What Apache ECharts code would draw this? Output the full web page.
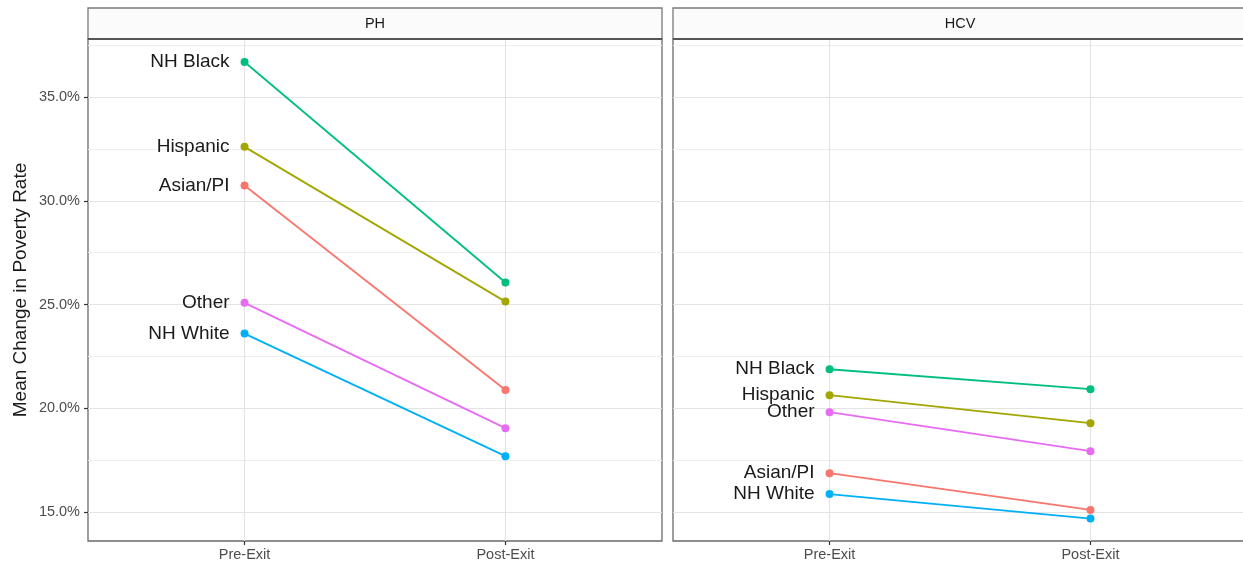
<!DOCTYPE html>
<html>
<head>
<meta charset="utf-8">
<title>Mean Change in Poverty Rate</title>
<script src="https://cdn.jsdelivr.net/npm/echarts@6/dist/echarts.min.js"></script>
<style>
  html, body { margin: 0; padding: 0; background: #ffffff; }
  #chart { width: 1243px; height: 565px; }
</style>
</head>
<body>
<div id="chart"></div>
<script>
// Periods on the x axis and facet panels
const periods = ['Pre-Exit', 'Post-Exit'];
const panels = ['PH', 'HCV'];
const groups = ['Asian/PI', 'Hispanic', 'NH Black', 'NH White', 'Other'];

// Mean poverty rate (%) by group, Pre-Exit then Post-Exit
const phAsianPI  = [30.74, 20.88];
const phHispanic = [32.60, 25.14];
const phNHBlack  = [36.69, 26.06];
const phNHWhite  = [23.60, 17.69];
const phOther    = [25.08, 19.04];

const hcvAsianPI  = [16.87, 15.10];
const hcvHispanic = [20.63, 19.28];
const hcvNHBlack  = [21.88, 20.92];
const hcvNHWhite  = [15.86, 14.68];
const hcvOther    = [19.81, 17.93];

// Y axis ticks and gridlines
const yMajorTicks = [15, 20, 25, 30, 35];
const yMinorTicks = [17.5, 22.5, 27.5, 32.5, 37.5];
const yRange = [13.6, 37.8];

const panelSeries = [
  [phAsianPI, phHispanic, phNHBlack, phNHWhite, phOther],
  [hcvAsianPI, hcvHispanic, hcvNHBlack, hcvNHWhite, hcvOther]
];

const groupColors = ['#F8766D', '#A3A500', '#00BF7D', '#00B0F6', '#E76BF3'];
const FONT = '"Liberation Sans", Arial, Helvetica, sans-serif';

// The second panel runs slightly past the right edge of the page
const gridLayout = [
  { left: 88, top: 39, width: 574, height: 502 },
  { left: 673, top: 39, width: 574, height: 502 }
];

const grids = gridLayout.map(g => Object.assign({
  show: true, backgroundColor: 'transparent',
  borderColor: '#6a6a6a', borderWidth: 1.3, containLabel: false,
  outerBoundsMode: 'none'
}, g));

const xAxes = panels.map((p, i) => ({
  type: 'value', gridIndex: i, min: 0.4, max: 2.6,
  axisLine: { show: false },
  splitLine: { show: false },
  axisTick: { show: true, customValues: [1, 2], length: 4, lineStyle: { color: '#333', width: 1.2 } },
  axisLabel: {
    show: true, customValues: [1, 2], margin: 6,
    formatter: v => periods[Math.round(v) - 1] || '',
    color: '#4d4d4d', fontSize: 14.5, fontFamily: FONT
  }
}));

const yAxes = panels.map((p, i) => ({
  type: 'value', gridIndex: i, min: yRange[0], max: yRange[1],
  name: i === 0 ? 'Mean Change in Poverty Rate' : '',
  nameLocation: 'middle', nameGap: 58,
  nameTextStyle: { color: '#1a1a1a', fontSize: 19, fontFamily: FONT },
  axisLine: { show: false },
  splitLine: { show: false },
  axisTick: { show: i === 0, customValues: yMajorTicks, length: 4, lineStyle: { color: '#333', width: 1.2 } },
  axisLabel: {
    show: i === 0, customValues: yMajorTicks, margin: 8,
    formatter: v => v.toFixed(1) + '%',
    color: '#4d4d4d', fontSize: 14.5, fontFamily: FONT
  }
}));

const series = [];

// Panel gridlines (drawn beneath the data)
panels.forEach((p, i) => {
  const lines = [];
  yMinorTicks.forEach(v => lines.push({ yAxis: v, lineStyle: { color: '#efefef', width: 1, type: 'solid' } }));
  yMajorTicks.forEach(v => lines.push({ yAxis: v, lineStyle: { color: '#e4e4e4', width: 1.2, type: 'solid' } }));
  periods.forEach((c, k) => lines.push({ xAxis: k + 1, lineStyle: { color: '#e4e4e4', width: 1.2, type: 'solid' } }));
  series.push({
    type: 'line', xAxisIndex: i, yAxisIndex: i, data: [], z: 1, silent: true,
    markLine: {
      silent: true, z: 1, symbol: 'none', label: { show: false }, animation: false,
      emphasis: { disabled: true },
      lineStyle: { type: 'solid' },
      data: lines
    }
  });
});

// Group lines with labels at the Pre-Exit point
panels.forEach((p, i) => {
  panelSeries[i].forEach((vals, g) => {
    series.push({
      name: groups[g], type: 'line', xAxisIndex: i, yAxisIndex: i, z: 3,
      symbol: 'circle', symbolSize: 8,
      lineStyle: { color: groupColors[g], width: 1.8 },
      itemStyle: { color: groupColors[g], borderWidth: 0 },
      emphasis: { disabled: true },
      data: vals.map((v, k) => k === 0
        ? { value: [k + 1, v], label: { show: true } }
        : { value: [k + 1, v] }),
      label: {
        show: false, position: 'left', distance: 11,
        formatter: () => groups[g],
        color: '#1a1a1a', fontSize: 19, fontFamily: FONT
      },
      animation: false
    });
  });
});

// Facet strips
const strips = [];
panels.forEach((p, i) => {
  const g = gridLayout[i];
  strips.push({
    type: 'rect', silent: true, z: 10,
    shape: { x: g.left, y: 8, width: g.width, height: 31 },
    style: { fill: '#fbfbfb', stroke: '#7a7a7a', lineWidth: 1.3 }
  });
  strips.push({
    type: 'line', silent: true, z: 11,
    shape: { x1: g.left, y1: 39, x2: g.left + g.width, y2: 39 },
    style: { stroke: '#555555', lineWidth: 2 }
  });
  strips.push({
    type: 'text', silent: true, z: 12,
    x: g.left + g.width / 2, y: 24,
    style: { text: p, fill: '#1a1a1a', font: '14.5px ' + FONT, align: 'center', verticalAlign: 'middle' }
  });
});

const chart = echarts.init(document.getElementById('chart'), null, { renderer: 'canvas' });
chart.setOption({
  backgroundColor: '#ffffff',
  animation: false,
  grid: grids,
  xAxis: xAxes,
  yAxis: yAxes,
  series: series,
  graphic: strips
});
</script>
</body>
</html>
